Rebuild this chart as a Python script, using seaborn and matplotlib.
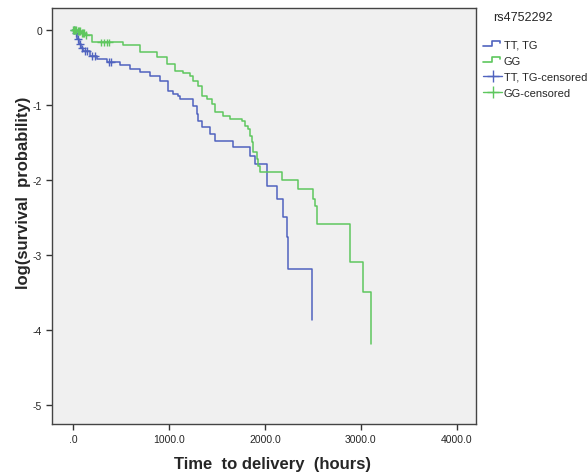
import numpy as np
import pandas as pd
import matplotlib
matplotlib.use("Agg")
import matplotlib.pyplot as plt
from matplotlib.legend_handler import HandlerBase
import seaborn as sns

# ---------------- data ----------------
group_names = ["TT, TG", "GG"]

tt_time = [0, 20, 40, 60, 85, 104, 177, 250, 354, 490, 594, 698, 802, 906, 990, 1042,
           1094, 1115, 1250, 1292, 1302, 1344, 1428, 1480, 1667, 1844, 1896, 2021, 2126,
           2188, 2230, 2240, 2490]
tt_logsurv = [0.0, -0.05, -0.12, -0.19, -0.25, -0.28, -0.35, -0.39, -0.43, -0.47, -0.52,
              -0.56, -0.62, -0.68, -0.82, -0.86, -0.88, -0.92, -1.02, -1.12, -1.22, -1.30,
              -1.39, -1.48, -1.56, -1.68, -1.79, -2.08, -2.26, -2.50, -2.76, -3.19, -3.87]

gg_time = [0, 40, 80, 130, 198, 520, 700, 875, 980, 1063, 1146, 1219, 1250, 1302, 1344,
           1396, 1448, 1480, 1563, 1636, 1761, 1792, 1823, 1844, 1865, 1876, 1917, 1928,
           1949, 2178, 2345, 2501, 2522, 2542, 2886, 2890, 3022, 3105]
gg_logsurv = [0.0, -0.02, -0.04, -0.07, -0.17, -0.20, -0.30, -0.36, -0.46, -0.55, -0.58,
              -0.62, -0.68, -0.75, -0.88, -0.92, -0.99, -1.10, -1.15, -1.19, -1.22, -1.28,
              -1.32, -1.42, -1.50, -1.63, -1.72, -1.82, -1.90, -2.00, -2.12, -2.26, -2.35,
              -2.59, -2.82, -3.10, -3.50, -4.19]

tt_censored = [10, 30, 50, 70, 95, 120, 150, 200, 230, 380, 400]
gg_censored = [5, 15, 25, 35, 50, 60, 70, 90, 100, 110, 140, 290, 320, 350, 380]

x_ticks = [0, 1000, 2000, 3000, 4000]
x_ticklabels = [".0", "1000.0", "2000.0", "3000.0", "4000.0"]
y_ticks = [0, -1, -2, -3, -4, -5]
y_ticklabels = ["0", "-1", "-2", "-3", "-4", "-5"]

legend_title = "rs4752292"
x_label = "Time  to delivery  (hours)"
y_label = "log(survival  probability)"

# ---------------- styling ----------------
blue = "#5063BF"
green = "#5EC75E"


def step_value(times, vals, t):
    idx = np.searchsorted(np.asarray(times), t, side="right") - 1
    return np.asarray(vals)[idx]


curves = pd.concat([
    pd.DataFrame({"time": tt_time, "logsurv": tt_logsurv, "group": group_names[0]}),
    pd.DataFrame({"time": gg_time, "logsurv": gg_logsurv, "group": group_names[1]}),
], ignore_index=True)

cens = pd.concat([
    pd.DataFrame({"time": tt_censored,
                  "logsurv": step_value(tt_time, tt_logsurv, tt_censored),
                  "group": group_names[0] + "-censored"}),
    pd.DataFrame({"time": gg_censored,
                  "logsurv": step_value(gg_time, gg_logsurv, gg_censored),
                  "group": group_names[1] + "-censored"}),
], ignore_index=True)

sns.set_style("white")
plt.rcParams["font.family"] = ["Liberation Sans", "DejaVu Sans"]

fig = plt.figure(figsize=(5.88, 4.77), dpi=100)
ax = fig.add_axes([52 / 588, 1 - 425 / 477, (476 - 52) / 588, (425 - 9) / 477])
ax.set_facecolor("#F0F0F0")

sns.lineplot(data=curves, x="time", y="logsurv", hue="group",
             palette={group_names[0]: blue, group_names[1]: green},
             estimator=None, sort=False, drawstyle="steps-post",
             linewidth=1.1, ax=ax, legend=False)
sns.scatterplot(data=cens, x="time", y="logsurv", hue="group",
                palette={group_names[0] + "-censored": blue, group_names[1] + "-censored": green},
                marker="+", s=30, linewidth=1.0, ax=ax, legend=False, zorder=3)

ax.set_xlim(-219, 4200)
ax.set_ylim(-5.26, 0.29)
ax.set_xticks(x_ticks)
ax.set_xticklabels(x_ticklabels, fontsize=7.5)
ax.set_yticks(y_ticks)
ax.set_yticklabels(y_ticklabels, fontsize=7.5)
ax.tick_params(axis="both", direction="out", length=4, width=1, color="#333333",
               bottom=True, left=True, pad=3)
for s in ax.spines.values():
    s.set_visible(True)
    s.set_color("#444444")
    s.set_linewidth(1.0)

ax.set_xlabel(x_label, fontsize=12, fontweight="bold")
ax.set_ylabel(y_label, fontsize=12, fontweight="bold")
ax.xaxis.set_label_coords((272 - 52) / 424, (425 - 457) / 416)
ax.yaxis.set_label_coords((31 - 52) / 424, (425 - 193) / 416)


class StepHandler(HandlerBase):
    def create_artists(self, legend, orig_handle, xdescent, ydescent, width, height,
                       fontsize, trans):
        x0 = -xdescent
        y0 = -ydescent
        xs = [x0, x0 + 0.45 * width, x0 + 0.45 * width, x0 + 0.85 * width,
              x0 + 0.85 * width]
        ys = [y0 + 0.15 * height, y0 + 0.15 * height, y0 + 0.8 * height,
              y0 + 0.8 * height, y0 + 0.55 * height]
        ln = plt.Line2D(xs, ys, color=orig_handle.get_color(), lw=1.2, transform=trans)
        return [ln]


step_tt = plt.Line2D([], [], color=blue, lw=1.2)
step_gg = plt.Line2D([], [], color=green, lw=1.2)
handles = [
    step_tt,
    step_gg,
    plt.Line2D([], [], color=blue, lw=1.0, marker="+", markersize=8),
    plt.Line2D([], [], color=green, lw=1.0, marker="+", markersize=8),
]
labels = [group_names[0], group_names[1],
          group_names[0] + "-censored", group_names[1] + "-censored"]
fig.text(523 / 588, 1 - 18 / 477, legend_title, ha="center", va="center", fontsize=9)
leg = fig.legend(handles, labels, loc="upper left",
                 bbox_to_anchor=(479 / 588, 1 - 36 / 477), frameon=False,
                 fontsize=8, handlelength=1.7,
                 handletextpad=0.15, labelspacing=0.55, borderaxespad=0,
                 handler_map={step_tt: StepHandler(), step_gg: StepHandler()})

fig.savefig("out.png", dpi=100, facecolor="white")
